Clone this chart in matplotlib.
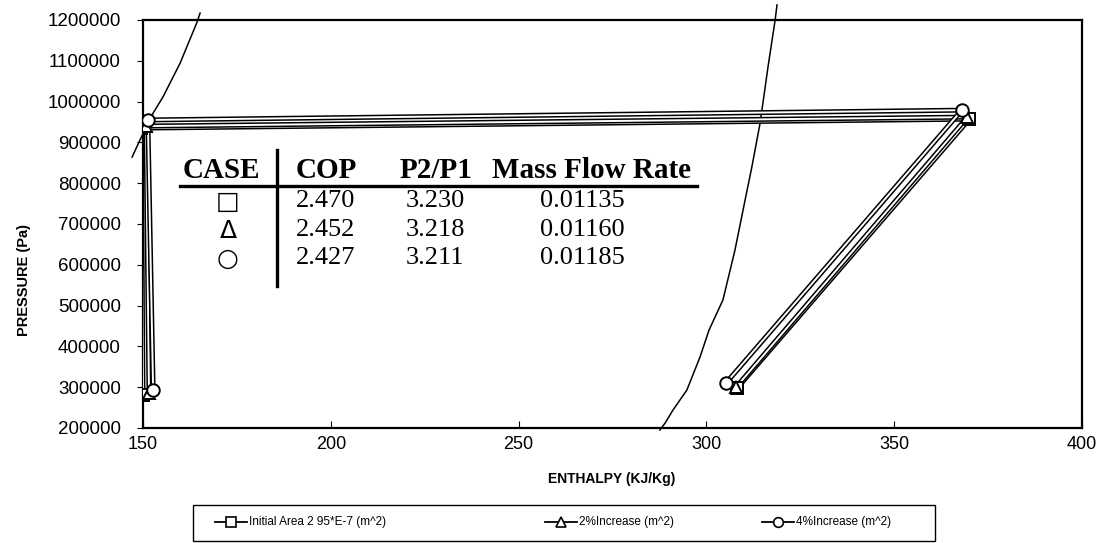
import matplotlib
matplotlib.use('Agg')
from matplotlib import pyplot as plt
from matplotlib.lines import Line2D
from matplotlib.patches import Rectangle
import matplotlib.patheffects as pe

# cycle points: compressor in -> compressor out -> condenser out -> expansion out
h_initial = [308.2, 370.0, 149.5, 150.0]
p_initial = [298000, 957000, 935000, 281000]
h_2pct = [307.9, 369.5, 150.8, 151.6]
p_2pct = [300000, 962000, 940000, 285000]
h_4pct = [305.2, 368.0, 151.3, 152.7]
p_4pct = [310000, 979000, 955000, 293000]

series_labels = ['Initial Area 2 95*E-7 (m^2)', '2%Increase (m^2)', '4%Increase (m^2)']
series_markers = ['s', '^', 'o']

# hand drawn saturation dome
liq_h = [165.2, 164.4, 159.9, 155.3, 152.7, 149.2, 147.1]
liq_p = [1217000, 1195000, 1094600, 1011000, 972000, 906000, 864000]
vap_h = [318.8, 318.3, 316.4, 314.3, 312.1, 310.3, 307.6, 304.4, 300.7, 298.3, 294.8, 291.1, 289.0, 287.6]
vap_p = [1237000, 1200000, 1084800, 947500, 839700, 758800, 636000, 513700, 440000, 374000, 293000, 244000, 212000, 195000]

# table
table_header = ['CASE', 'COP', 'P2/P1', 'Mass Flow Rate']
table_case = ['\u25a1', '\u0394', '\u25cb']
table_cop = ['2.470', '2.452', '2.427']
table_ratio = ['3.230', '3.218', '3.211']
table_mass = ['0.01135', '0.01160', '0.01185']

W, H = 1103, 543
plt.rcParams['font.family'] = ['Liberation Sans', 'DejaVu Sans']
fig = plt.figure(figsize=(W / 100, H / 100), dpi=100)
ax = fig.add_axes([143 / W, 1 - 428 / H, (1082 - 143) / W, (428 - 20) / H])


def px(x, y):
    return x / W, 1 - y / H


outline = [pe.Stroke(linewidth=3.6, foreground='black'), pe.Normal()]
for hs, ps, m in zip([h_initial, h_2pct, h_4pct], [p_initial, p_2pct, p_4pct], series_markers):
    ax.plot(hs, ps, color='white', lw=1.4, path_effects=outline, zorder=3)
    ax.plot(hs, ps, ls='none', marker=m, ms=9, mfc='white', mec='black', mew=1.4, zorder=4)

ax.plot(liq_h, liq_p, color='black', lw=1.1, clip_on=False, zorder=2)
ax.plot(vap_h, vap_p, color='black', lw=1.1, clip_on=False, zorder=2)

ax.set_xlim(150, 400)
ax.set_ylim(200000, 1200000)
ax.set_xticks([150, 200, 250, 300, 350, 400])
ax.set_yticks(range(200000, 1200001, 100000))
ax.set_yticklabels([str(v) for v in range(200000, 1200001, 100000)])
ax.tick_params(axis='x', direction='in', length=5, labelsize=13, pad=6)
ax.tick_params(axis='y', direction='out', length=4, labelsize=13.5, pad=12)
for s in ax.spines.values():
    s.set_linewidth(1.6)

fig.text(*px(612, 479), 'ENTHALPY (KJ/Kg)', ha='center', va='center',
         fontsize=10, fontweight='bold')
fig.text(*px(24, 280), 'PRESSURE (Pa)', ha='center', va='center',
         rotation=90, fontsize=10.5, fontweight='bold')

# table drawn inside the plot
serif = ['Liberation Serif', 'DejaVu Serif']
head_x = [221, 326, 436, 591]
for x, t in zip(head_x, table_header):
    fig.text(*px(x, 170), t, ha='center', va='center', fontsize=21,
             fontweight='bold', family=serif)
col_x = [228, 326, 435, 582]
rows_y = [201, 230, 258]
for i, y in enumerate(rows_y):
    fig.text(*px(col_x[0], y + 1), table_case[i], ha='center', va='center',
             fontsize=18, family=['DejaVu Sans'])
    fig.text(*px(col_x[1], y), table_cop[i], ha='center', va='center', fontsize=19, family=serif)
    fig.text(*px(col_x[2], y), table_ratio[i], ha='center', va='center', fontsize=19, family=serif)
    fig.text(*px(col_x[3], y), table_mass[i], ha='center', va='center', fontsize=19, family=serif)
fig.add_artist(Line2D([180 / W, 697 / W], [1 - 186 / H, 1 - 186 / H], color='black', lw=2.4))
fig.add_artist(Line2D([277 / W, 277 / W], [1 - 150 / H, 1 - 286 / H], color='black', lw=2.4))

# legend box drawn by hand (entries are not evenly spaced in the original)
fig.add_artist(Rectangle(px(193, 541), (935 - 193) / W, (541 - 505) / H,
                         fill=False, edgecolor='black', lw=1.0))
entry_x = [215, 545, 762]
for x, m, lab in zip(entry_x, series_markers, series_labels):
    fig.add_artist(Line2D([x / W, (x + 32) / W], [1 - 522 / H, 1 - 522 / H], color='black',
                          lw=1.3))
    fig.add_artist(Line2D([(x + 16) / W], [1 - 522 / H], marker=m, ms=7, mfc='white',
                          mec='black', mew=1.2, color='black'))
    fig.text(*px(x + 34, 522), lab, ha='left', va='center', fontsize=8.5)

fig.savefig('out.png', dpi=100)
